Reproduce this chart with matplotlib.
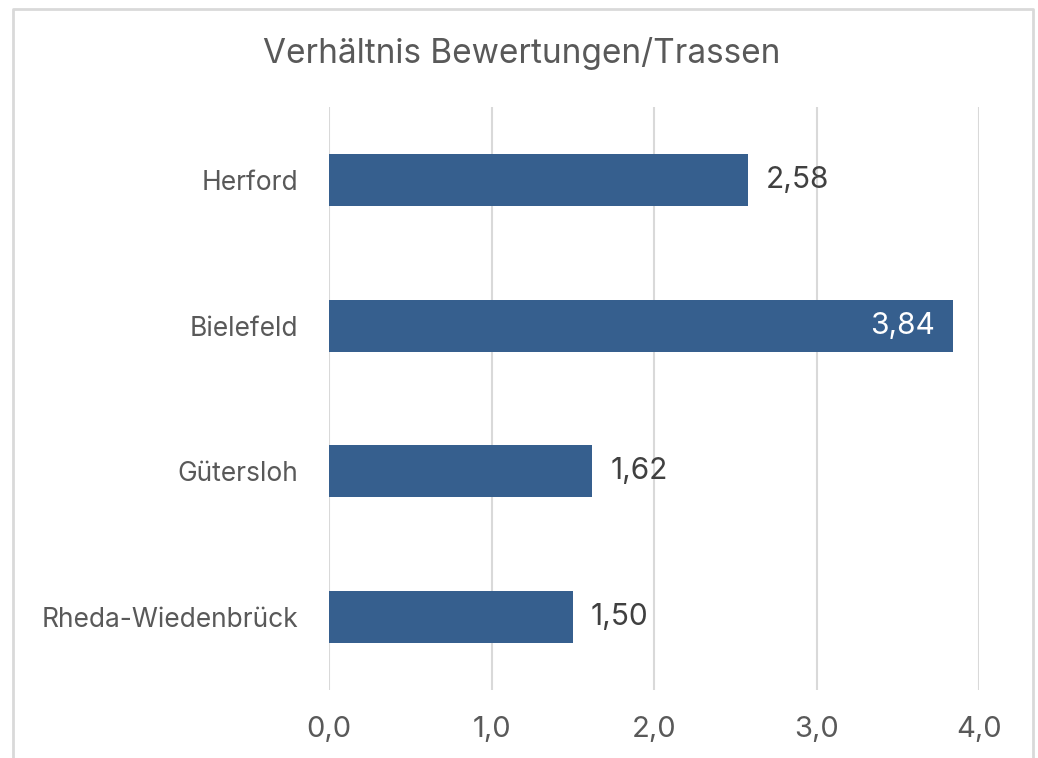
import matplotlib
matplotlib.use("Agg")
import matplotlib.pyplot as plt
from matplotlib.lines import Line2D

categories = ["Herford", "Bielefeld", "Gütersloh", "Rheda-Wiedenbrück"]
values = [2.58, 3.84, 1.62, 1.50]
x_ticks = [0, 1, 2, 3, 4]
x_tick_labels = ["0,0", "1,0", "2,0", "3,0", "4,0"]
title = "Verhältnis Bewertungen/Trassen"

W, H, DPI = 1038, 758, 100
BAR = "#365F8E"
GRID = "#D9D9D9"
TXT = "#595959"
FONT = "Inter"

fig = plt.figure(figsize=(W / DPI, H / DPI), dpi=DPI)
fig.patch.set_facecolor("white")

ax = fig.add_axes([329 / W, 1 - 690 / H, 650 / W, 583 / H])
ax.set_facecolor("white")
pos = list(range(len(categories)))
ax.barh(pos, values, height=0.356, color=BAR, zorder=3)
ax.set_xlim(0, 4)
ax.set_ylim(len(categories) - 0.5, -0.5)

for s in ax.spines.values():
    s.set_visible(False)
ax.set_xticks(x_ticks)
ax.set_xticklabels(x_tick_labels, fontsize=21, color=TXT, fontfamily=FONT)
ax.set_yticks(pos)
ax.set_yticklabels(categories, fontsize=19, color=TXT, fontfamily=FONT)
ax.tick_params(axis="both", length=0)
ax.tick_params(axis="x", pad=19)
ax.tick_params(axis="y", pad=22)
ax.grid(axis="x", color=GRID, linewidth=1.5, zorder=0)

# value labels: outside the bar, except the longest one sits inside
vmax = max(values)
for p, v in zip(pos, values):
    txt = f"{v:.2f}".replace(".", ",")
    if v == vmax:
        ax.annotate(txt, (v, p), xytext=(-18, 0), textcoords="offset pixels",
                    ha="right", va="center", fontsize=21.5, color="white",
                    fontfamily=FONT, zorder=4)
    else:
        ax.annotate(txt, (v, p), xytext=(18, 0), textcoords="offset pixels",
                    ha="left", va="center", fontsize=21.5, color="#404040",
                    fontfamily=FONT, zorder=4)

fig.text(522 / W, 1 - 62.5 / H, title, ha="center", va="baseline",
         fontsize=24, color=TXT, fontfamily=FONT)

# chart frame (open at the bottom)
x0, x1, y0 = 12.5 / W, 1033 / W, 1 - 8.5 / H
fig.add_artist(Line2D([x0, x0, x1, x1], [0, y0, y0, 0], transform=fig.transFigure,
                      color=GRID, linewidth=2))

fig.savefig("out.png", dpi=DPI, facecolor="white")
